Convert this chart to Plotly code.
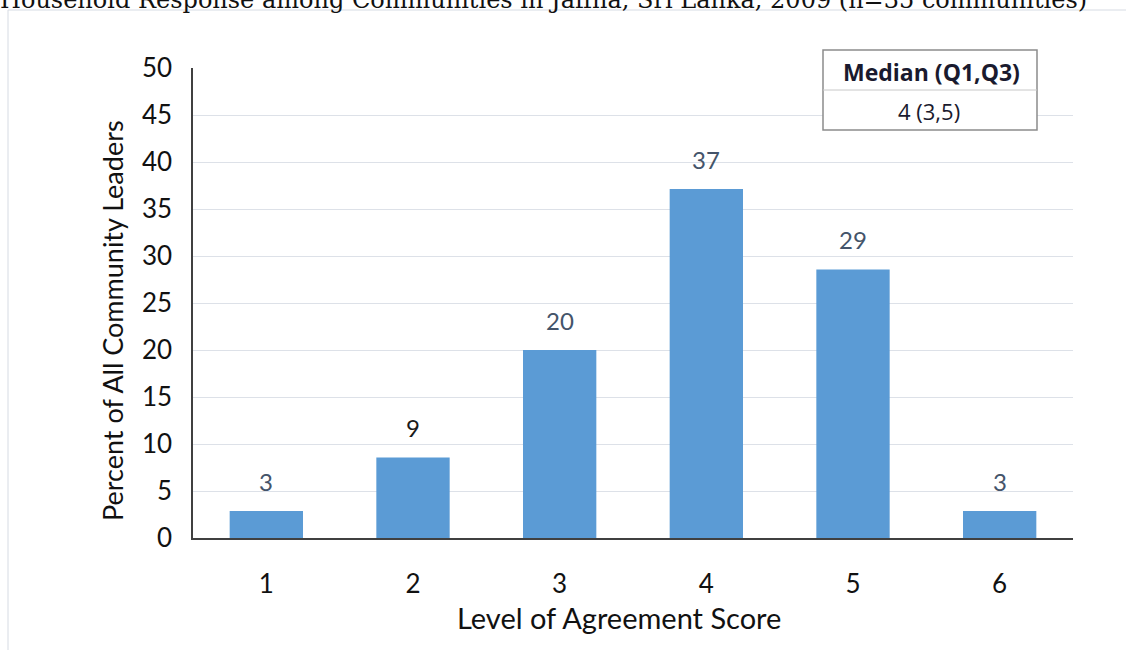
import plotly.graph_objects as go

categories = [1, 2, 3, 4, 5, 6]
percent = [2.86, 8.57, 20.0, 37.14, 28.57, 2.86]
labels = ["3", "9", "20", "37", "29", "3"]
label_colors = ["#44546A", "#1a1a1a", "#44546A", "#44546A", "#44546A", "#44546A"]
y_ticks = [0, 5, 10, 15, 20, 25, 30, 35, 40, 45, 50]
x_title = "Level of Agreement Score"
y_title = "Percent of All Community Leaders"
table_header = "Median (Q1,Q3)"
table_value = "4 (3,5)"
title_text = "Household Response among Communities in Jaffna, Sri Lanka, 2009 (n=35 communities)"

W, H = 1126, 650
L, R, T, B = 193, 53, 68, 112
pw, ph = W - L - R, H - T - B

def px(x):
    return (x - L) / pw

def py(y):
    return 1 - (y - T) / ph

FONT = "Lato"

fig = go.Figure()
fig.add_trace(go.Bar(
    x=categories, y=percent, width=0.5,
    marker=dict(color="#5B9BD5", line=dict(width=0)),
    hoverinfo="skip",
))

for c, v, t, col in zip(categories, percent, labels, label_colors):
    fig.add_annotation(x=c, y=v, text=t, showarrow=False, xanchor="center", yanchor="bottom",
                       yshift=13, font=dict(family=FONT, size=24, color=col))

# frame
fig.add_shape(type="rect", xref="paper", yref="paper",
              x0=px(8), x1=px(1140), y0=py(662), y1=py(10),
              line=dict(color="#d6dbe3", width=1), fillcolor="rgba(0,0,0,0)", layer="below")

# median table
fig.add_shape(type="rect", xref="paper", yref="paper",
              x0=px(823), x1=px(1037), y0=py(130), y1=py(50),
              line=dict(color="#8c8c8c", width=1.5), fillcolor="white", layer="above")
fig.add_shape(type="line", xref="paper", yref="paper",
              x0=px(823), x1=px(1037), y0=py(90), y1=py(90),
              line=dict(color="#c8c8c8", width=1), layer="above")
fig.add_annotation(xref="paper", yref="paper", x=px(931), y=py(72), xanchor="center", yanchor="middle",
                   text="<b>" + table_header + "</b>",
                   showarrow=False, font=dict(family="Open Sans", size=23, color="#1a1a2e"))
fig.add_annotation(xref="paper", yref="paper", x=px(929), y=py(111), xanchor="center", yanchor="middle",
                   text=table_value,
                   showarrow=False, font=dict(family="Open Sans", size=22, color="#1a1a2e"))

# axis titles
fig.add_annotation(xref="paper", yref="paper", x=px(619), y=py(617), xanchor="center", yanchor="middle",
                   text=x_title, showarrow=False, font=dict(family=FONT, size=29, color="#111111"))
fig.add_annotation(xref="paper", yref="paper", x=px(112), y=py(321), xanchor="center", yanchor="middle",
                   text=y_title, textangle=-90, showarrow=False,
                   font=dict(family=FONT, size=27, color="#111111"))

# cut-off title
fig.add_annotation(xref="paper", yref="paper", x=px(-2), y=py(16), xanchor="left", yanchor="bottom",
                   text=title_text, showarrow=False,
                   font=dict(family="DejaVu Serif", size=24, color="#111111"))

fig.update_layout(
    width=W, height=H,
    margin=dict(l=L, r=R, t=T, b=B, pad=0),
    paper_bgcolor="white", plot_bgcolor="white",
    showlegend=False,
    font=dict(family=FONT, color="#111111"),
    xaxis=dict(
        range=[0.5, 6.5], tickvals=categories, ticktext=[str(c) for c in categories],
        tickfont=dict(size=26, family=FONT),
        showline=True, linecolor="#404040", linewidth=1.5,
        showgrid=False, zeroline=False, ticks="outside", ticklen=22, tickcolor="rgba(0,0,0,0)",
    ),
    yaxis=dict(
        range=[0, 50], tickvals=y_ticks,
        tickfont=dict(size=26, family=FONT),
        showline=True, linecolor="#404040", linewidth=1.5,
        showgrid=True, gridcolor="#dde1e8", gridwidth=1,
        zeroline=False, ticks="outside", ticklen=14, tickcolor="rgba(0,0,0,0)",
    ),
)

fig.write_html("out.html")
